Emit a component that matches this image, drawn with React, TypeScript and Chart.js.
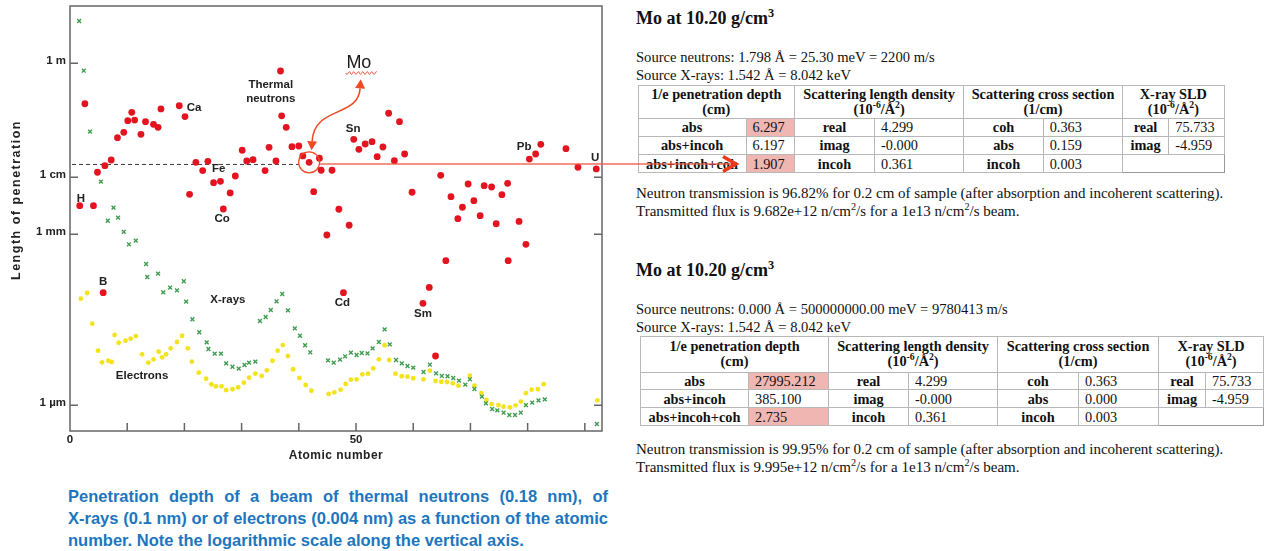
import React, { useEffect, useRef } from "react";
import { Chart, registerables } from "chart.js";

Chart.register(...registerables);

// ---------------- data ----------------
// Thermal neutrons: atomic number / length of penetration (m)
const neutronZ = [1.7,2.6,4.1,4.8,5.8,6.1,7.2,8.3,9.4,10.1,10.8,11.3,12.4,13.2,14.6,15.4,15.9,19.1,20.1,20.9,22.0,23.2,24.1,25.1,26.3,26.8,28.0,28.9,30.1,30.9,32.0,34.1,34.8,36.0,36.8,37.0,37.8,38.8,40.0,40.7,41.8,42.6,43.6,43.9,44.9,45.8,47.0,47.8,48.8,49.6,50.5,51.6,52.8,53.7,54.7,55.7,56.7,57.6,58.5,59.8,61.7,62.8,63.9,64.8,65.7,66.6,67.8,68.6,69.6,70.6,71.7,72.4,73.7,74.5,75.5,76.5,76.6,78.5,79.7,80.3,81.4,82.3,86.7,88.8,92.0];
const neutronLength = [0.00318,0.195,0.00318,0.01225,9.45e-5,0.0160,0.0201,0.0496,0.0615,0.0984,0.138,0.101,0.0568,0.0945,0.0851,0.0754,0.158,0.180,0.116,0.00503,0.0183,0.0131,0.0191,0.00804,0.00851,0.00278,0.00531,0.01054,0.0298,0.0193,0.0204,0.0131,0.0336,0.0193,0.733,0.120,0.0754,0.0344,0.0354,0.0237,0.0183,0.00559,0.0216,0.0133,0.000972,0.0133,0.00275,9.45e-5,0.00144,0.0464,0.0310,0.0384,0.0421,0.0230,0.0340,0.133,0.0196,0.0945,0.0256,0.00546,6.16e-5,0.000117,7.33e-6,0.01084,0.000344,0.00457,0.00188,0.00298,0.00763,0.00389,0.00212,0.00712,0.00676,0.00153,0.00495,0.00785,0.000344,0.00168,0.000668,0.0209,0.0256,0.0379,0.0318,0.0150,0.0140];

// X-rays
const xrayZ = [1.6,2.4,3.5,5.4,6.6,7.6,8.4,9.4,10.3,11.5,13.3,13.5,15.4,16.3,17.5,18.7,19.9,20.3,21.4,22.6,23.9,24.2,25.3,26.4,27.3,28.4,29.5,30.5,31.3,32.4,33.2,34.2,35.1,36.1,37.1,38.1,39.3,40.2,41.1,42.0,45.1,46.1,47.2,48.1,49.1,50.1,51.0,52.0,52.9,54.0,55.0,55.9,57.0,58.0,59.0,60.0,61.8,62.9,64.0,65.0,66.0,67.0,68.0,69.1,69.9,70.7,72.0,72.7,73.8,74.7,75.8,76.8,77.8,78.8,79.7,80.8,81.9,83.0,92.1];
const xrayLength = [5.52,0.741,0.0631,0.00837,0.00173,0.00293,0.00196,0.00110,0.000668,0.000773,0.000301,0.000178,0.000204,9.6e-5,0.000116,0.000104,0.000150,6.57e-5,3.23e-5,1.91e-5,1.27e-5,9.72e-6,8.04e-6,8.04e-6,5.45e-6,4.75e-6,4.39e-6,5.09e-6,5.59e-6,5.82e-6,3.01e-5,3.54e-5,4.70e-5,6.68e-5,8.97e-5,4.64e-5,2.24e-5,1.66e-5,1.13e-5,8.51e-6,6.15e-6,5.59e-6,6.31e-6,7.24e-6,8.37e-6,7.62e-6,8.27e-6,8.17e-6,1.0e-5,1.29e-5,2.15e-5,1.17e-5,6.23e-6,5.45e-6,4.89e-6,4.57e-6,3.84e-6,5.15e-6,3.64e-6,3.27e-6,3.23e-6,3.01e-6,2.70e-6,2.30e-6,2.86e-6,1.93e-6,1.42e-6,1.08e-6,8.61e-7,8.17e-7,7.41e-7,6.76e-7,6.76e-7,7.41e-7,1.01e-6,1.11e-6,1.22e-6,1.27e-6,4.70e-7];

// Electrons
const electronZ = [1.9,3.0,3.9,4.9,5.6,6.7,7.3,7.8,8.5,9.7,10.6,11.5,12.6,13.7,14.6,15.5,16.1,16.8,17.6,18.7,19.6,20.6,21.3,22.5,23.8,24.7,25.5,26.5,27.3,28.4,29.4,30.4,31.3,32.4,33.5,34.4,35.4,36.3,37.2,38.1,39.0,40.1,41.2,42.2,45.2,46.2,47.3,48.2,49.1,50.1,51.1,52.1,53.0,54.0,55.0,55.8,56.9,58.0,59.0,60.0,61.8,62.9,63.9,64.9,65.9,66.9,67.9,69.9,70.7,71.9,72.8,73.7,74.9,75.8,76.9,77.9,78.8,79.7,80.7,81.8,82.8,92.2];
const electronLength = [7.41e-5,9.33e-5,2.70e-5,9.08e-6,5.68e-6,6.05e-6,5.75e-6,1.71e-5,1.25e-5,1.36e-5,1.47e-5,1.64e-5,7.85e-6,5.59e-6,6.41e-6,8.71e-6,6.95e-6,7.85e-6,1.0e-5,1.29e-5,1.66e-5,1.0e-5,5.82e-6,3.73e-6,2.93e-6,2.34e-6,2.15e-6,2.15e-6,1.85e-6,1.91e-6,2.07e-6,2.49e-6,3.05e-6,3.58e-6,3.27e-6,4.11e-6,6.05e-6,9.08e-6,1.14e-5,7.33e-6,4.29e-6,3.01e-6,2.27e-6,1.80e-6,1.58e-6,1.69e-6,1.88e-6,2.37e-6,2.81e-6,2.86e-6,3.50e-6,3.58e-6,4.46e-6,6.41e-6,1.13e-5,6.23e-6,3.58e-6,3.23e-6,3.18e-6,2.98e-6,2.86e-6,4.05e-6,2.67e-6,2.59e-6,2.56e-6,2.43e-6,2.21e-6,3.30e-6,2.21e-6,1.64e-6,1.24e-6,1.05e-6,1.01e-6,9.45e-7,9.23e-7,1.0e-6,1.16e-6,1.63e-6,1.88e-6,1.91e-6,2.34e-6,1.22e-6];

// axes
const X_MIN = 0;
const X_MAX = 93;
const Y_MIN = 3.54e-7;
const Y_MAX = 10.12;
const yTickValues = [1, 0.01, 0.001, 1e-6];
const yTickLabels = ["1 m", "1 cm", "1 mm", "1 \u00b5m"];
const yRightTickValues = [0.01, 0.001, 1e-6];
const xTickValues = [10, 20, 30, 40, 50, 60, 70, 80, 90];
const xLabelValues = [0, 50];
const xLabelTexts = ["0", "50"];

// annotations (data coordinates)
const labelTexts = ["H", "Ca", "Fe", "Co", "Thermal", "neutrons", "Sn", "Pb", "U", "B", "X-rays", "Electrons", "Cd", "Sm"];
const labelZ = [1.9, 21.7, 26.0, 26.6, 35.1, 35.1, 49.5, 79.4, 91.8, 5.8, 27.6, 12.6, 47.6, 61.7];
const labelLength = [0.00423, 0.164, 0.0140, 0.00186, 0.416, 0.236, 0.0704, 0.0340, 0.0218, 1.46e-4, 7.03e-5, 3.27e-6, 6.23e-5, 4.0e-5];
const MO_Z = 41.8;
const MO_LENGTH = 0.0183;
const GUIDE_LENGTH = 0.0168;
const MO_LABEL_Z = 50.5;
const MO_LABEL_LENGTH = 1.01;
const POINTER_TIP_X = 736;

// tables
const title = "Mo at 10.20 g/cm";
const sourceXrays = "Source X-rays: 1.542 \u00c5 = 8.042 keV";
const sldRows: [string, string][] = [["real", "4.299"], ["imag", "-0.000"], ["incoh", "0.361"]];
const xraySldRows: [string, string][] = [["real", "75.733"], ["imag", "-4.959"]];

const block1Source = "Source neutrons: 1.798 \u00c5 = 25.30 meV = 2200 m/s";
const block1Depth: [string, string, boolean][] = [["abs", "6.297", true], ["abs+incoh", "6.197", false], ["abs+incoh+coh", "1.907", true]];
const block1Cross: [string, string][] = [["coh", "0.363"], ["abs", "0.159"], ["incoh", "0.003"]];
const block1Transmission = "Neutron transmission is 96.82% for 0.2 cm of sample (after absorption and incoherent scattering).";
const block1Flux = "9.682e+12";

const block2Source = "Source neutrons: 0.000 \u00c5 = 500000000.00 meV = 9780413 m/s";
const block2Depth: [string, string, boolean][] = [["abs", "27995.212", true], ["abs+incoh", "385.100", false], ["abs+incoh+coh", "2.735", true]];
const block2Cross: [string, string][] = [["coh", "0.363"], ["abs", "0.000"], ["incoh", "0.003"]];
const block2Transmission = "Neutron transmission is 99.95% for 0.2 cm of sample (after absorption and incoherent scattering).";
const block2Flux = "9.995e+12";

const captionLines = [
  "Penetration depth of a beam of thermal neutrons (0.18 nm), of",
  "X-rays (0.1 nm) or of electrons (0.004 nm) as a function of the atomic",
  "number. Note the logarithmic scale along the vertical axis.",
];

// ---------------- styles ----------------
const SANS = '"Liberation Sans", Arial, Helvetica, sans-serif';
const SERIF = '"Liberation Serif", "Times New Roman", Times, serif';
const TEXT = "#222";
const AXIS = "#666";
const RED = "#e3141f";
const GREEN = "#3f9d50";
const YELLOW = "#f3e31a";
const ARROW = "#ef4a26";
const HL = "#efb6b2";
const BORDER = "1px solid #b8b8b8";

const overlayPlugin = {
  id: "overlay",
  beforeDatasetsDraw(chart: any) {
    const { ctx, chartArea: a, scales } = chart;
    const gy = scales.y.getPixelForValue(GUIDE_LENGTH);
    const mx = scales.x.getPixelForValue(MO_Z);
    ctx.save();
    ctx.strokeStyle = "#3a3a3a";
    ctx.lineWidth = 1;
    ctx.setLineDash([4, 3]);
    ctx.beginPath();
    ctx.moveTo(a.left + 2, gy);
    ctx.lineTo(mx - 10, gy);
    ctx.stroke();
    ctx.restore();
  },
  afterDatasetsDraw(chart: any) {
    const { ctx, chartArea: a, scales } = chart;
    const X = (v: number) => scales.x.getPixelForValue(v);
    const Y = (v: number) => scales.y.getPixelForValue(v);
    ctx.save();
    ctx.setLineDash([]);
    // frame
    ctx.strokeStyle = AXIS;
    ctx.lineWidth = 1.5;
    ctx.strokeRect(a.left, a.top, a.right - a.left, a.bottom - a.top);
    ctx.beginPath();
    yTickValues.forEach((v) => {
      const p = Y(v);
      ctx.moveTo(a.left, p);
      ctx.lineTo(a.left + 8, p);
    });
    yRightTickValues.forEach((v) => {
      const p = Y(v);
      ctx.moveTo(a.right, p);
      ctx.lineTo(a.right - 8, p);
    });
    xTickValues.forEach((v) => {
      const p = X(v);
      ctx.moveTo(p, a.bottom);
      ctx.lineTo(p, a.bottom - 8);
    });
    ctx.stroke();

    // tick labels
    ctx.fillStyle = TEXT;
    ctx.font = `bold 11.5px ${SANS}`;
    ctx.textAlign = "right";
    ctx.textBaseline = "middle";
    yTickValues.forEach((v, i) => ctx.fillText(yTickLabels[i], a.left - 4, Y(v) - 2));
    ctx.textAlign = "center";
    xLabelValues.forEach((v, i) => ctx.fillText(xLabelTexts[i], X(v), a.bottom + 9));

    // axis titles
    ctx.font = `bold 12px ${SANS}`;
    (ctx as any).letterSpacing = "0.5px";
    ctx.fillText("Atomic number", (a.left + a.right) / 2, a.bottom + 25);
    ctx.save();
    ctx.translate(a.left - 53, 200);
    ctx.rotate(-Math.PI / 2);
    ctx.font = `bold 12.5px ${SANS}`;
    (ctx as any).letterSpacing = "1.5px";
    ctx.fillText("Length of penetration", 0, 0);
    ctx.restore();
    (ctx as any).letterSpacing = "0px";

    // element / series labels
    ctx.font = `bold 11.5px ${SANS}`;
    labelTexts.forEach((t, i) => ctx.fillText(t, X(labelZ[i]), Y(labelLength[i])));

    // Mo highlight
    const mx = X(MO_Z);
    const my = Y(MO_LENGTH);
    const gy = Y(GUIDE_LENGTH);
    ctx.strokeStyle = ARROW;
    ctx.lineWidth = 1.2;
    ctx.beginPath();
    ctx.arc(mx, my, 10.5, 0, Math.PI * 2);
    ctx.stroke();

    // pointer line to the table
    ctx.strokeStyle = "rgba(240,84,64,0.85)";
    ctx.lineWidth = 1.6;
    ctx.beginPath();
    ctx.moveTo(mx + 10.5, gy - 0.5);
    ctx.lineTo(POINTER_TIP_X - 3, gy - 0.5);
    ctx.stroke();
    ctx.strokeStyle = "#ee3a1c";
    ctx.lineWidth = 3.5;
    ctx.lineJoin = "miter";
    ctx.beginPath();
    ctx.moveTo(POINTER_TIP_X - 13, gy - 8);
    ctx.lineTo(POINTER_TIP_X, gy - 0.5);
    ctx.lineTo(POINTER_TIP_X - 13, gy + 7);
    ctx.stroke();

    // curved double arrow between the label and the circle
    const p0 = [mx + 51, my - 74];
    const c1 = [mx + 49, my - 44];
    const c2 = [mx + 5, my - 57];
    const p3 = [mx + 3, my - 21];
    ctx.strokeStyle = ARROW;
    ctx.lineWidth = 1.6;
    ctx.beginPath();
    ctx.moveTo(p0[0], p0[1]);
    ctx.bezierCurveTo(c1[0], c1[1], c2[0], c2[1], p3[0], p3[1]);
    ctx.stroke();
    const head = (bx: number, by: number, dx: number, dy: number) => {
      const l = Math.hypot(dx, dy);
      const ux = dx / l, uy = dy / l;
      const tx = bx + ux * 9, ty = by + uy * 9;
      ctx.fillStyle = ARROW;
      ctx.beginPath();
      ctx.moveTo(tx, ty);
      ctx.lineTo(bx - uy * 5, by + ux * 5);
      ctx.lineTo(bx + uy * 5, by - ux * 5);
      ctx.closePath();
      ctx.fill();
    };
    head(p0[0], p0[1], p0[0] - c1[0], p0[1] - c1[1]);
    head(p3[0], p3[1], p3[0] - c2[0], p3[1] - c2[1]);

    // "Mo" label with wavy underline
    const lx = X(MO_LABEL_Z);
    const ly = Y(MO_LABEL_LENGTH);
    ctx.fillStyle = "#1a1a1a";
    ctx.font = `18px ${SANS}`;
    ctx.textAlign = "center";
    ctx.fillText("Mo", lx, ly);
    ctx.strokeStyle = "#f04a3a";
    ctx.lineWidth = 1;
    ctx.beginPath();
    for (let t = 0; t <= 31; t += 0.5) {
      const xx = lx - 13 + t;
      const yy = ly + 10 + 1.4 * Math.sin((t * 2 * Math.PI) / 4.5);
      if (t === 0) ctx.moveTo(xx, yy);
      else ctx.lineTo(xx, yy);
    }
    ctx.stroke();
    ctx.restore();
  },
};

// ---------------- HTML blocks ----------------
type Spec = {
  titleTop: number;
  srcTop: number;
  srcLH: number;
  tableLeft: number;
  tableTop: number;
  cols: number[];
  headerH: number;
  rowHs: number[];
  transTop: number;
  source: string;
  depth: [string, string, boolean][];
  cross: [string, string][];
  transmission: string;
  flux: string;
};

const spec1: Spec = {
  titleTop: 7, srcTop: 48, srcLH: 18, tableLeft: 637.5, tableTop: 84.5,
  cols: [108, 48.5, 80, 89.3, 79.4, 79, 46.6, 55.7], headerH: 33, rowHs: [18, 18.6, 18.3], transTop: 184,
  source: block1Source, depth: block1Depth, cross: block1Cross, transmission: block1Transmission, flux: block1Flux,
};
const spec2: Spec = {
  titleTop: 259, srcTop: 301, srcLH: 17.5, tableLeft: 640, tableTop: 336,
  cols: [108, 80, 80, 89, 81, 80, 47, 58], headerH: 35.7, rowHs: [17.6, 18, 17.7], transTop: 440,
  source: block2Source, depth: block2Depth, cross: block2Cross, transmission: block2Transmission, flux: block2Flux,
};

const supStyle: React.CSSProperties = { fontSize: "0.68em", verticalAlign: "super", lineHeight: 0 };

function InfoBlock({ s }: { s: Spec }) {
  const w = s.cols.reduce((p, c) => p + c, 0);
  const th: React.CSSProperties = { border: BORDER, fontWeight: "bold", textAlign: "center", lineHeight: "15px", padding: 0, verticalAlign: "middle" };
  const lab: React.CSSProperties = { border: BORDER, fontWeight: "bold", textAlign: "center", padding: 0, lineHeight: "14px", whiteSpace: "nowrap" };
  const val: React.CSSProperties = { border: BORDER, textAlign: "left", padding: "0 0 0 6px", lineHeight: "14px", whiteSpace: "nowrap" };
  return (
    <>
      <div style={{ position: "absolute", left: 636, top: s.titleTop, fontFamily: SERIF, fontWeight: "bold", fontSize: 18, lineHeight: "22px", whiteSpace: "nowrap", color: "#111" }}>
        {title}
        <sup style={supStyle}>3</sup>
      </div>
      <div style={{ position: "absolute", left: 636, top: s.srcTop, fontFamily: SERIF, fontSize: 14.6, lineHeight: `${s.srcLH}px`, whiteSpace: "nowrap", color: "#111" }}>
        <div>{s.source}</div>
        <div>{sourceXrays}</div>
      </div>
      <table style={{ position: "absolute", left: s.tableLeft, top: s.tableTop, width: w, borderCollapse: "collapse", tableLayout: "fixed", fontFamily: SERIF, fontSize: 14.3, color: "#111", border: "1px solid #999" }}>
        <colgroup>
          {s.cols.map((c, i) => (
            <col key={i} style={{ width: c }} />
          ))}
        </colgroup>
        <tbody>
          <tr style={{ height: s.headerH }}>
            <th colSpan={2} style={th}>1/e penetration depth<br />(cm)</th>
            <th colSpan={2} style={th}>Scattering length density<br />(10<sup style={supStyle}>-6</sup>/{"\u00c5"}<sup style={supStyle}>2</sup>)</th>
            <th colSpan={2} style={th}>Scattering cross section<br />(1/cm)</th>
            <th colSpan={2} style={th}>X-ray SLD<br />(10<sup style={supStyle}>-6</sup>/{"\u00c5"}<sup style={supStyle}>2</sup>)</th>
          </tr>
          {[0, 1, 2].map((i) => (
            <tr key={i} style={{ height: s.rowHs[i] }}>
              <td style={lab}>{s.depth[i][0]}</td>
              <td style={{ ...val, background: s.depth[i][2] ? HL : undefined }}>{s.depth[i][1]}</td>
              <td style={lab}>{sldRows[i][0]}</td>
              <td style={val}>{sldRows[i][1]}</td>
              <td style={lab}>{s.cross[i][0]}</td>
              <td style={val}>{s.cross[i][1]}</td>
              {i < 2 ? (
                <>
                  <td style={lab}>{xraySldRows[i][0]}</td>
                  <td style={val}>{xraySldRows[i][1]}</td>
                </>
              ) : (
                <td colSpan={2} style={{ borderTop: BORDER, borderLeft: BORDER }} />
              )}
            </tr>
          ))}
        </tbody>
      </table>
      <div style={{ position: "absolute", left: 636, top: s.transTop, fontFamily: SERIF, fontSize: 15, lineHeight: "18px", whiteSpace: "nowrap", color: "#111" }}>
        <div>{s.transmission}</div>
        <div>
          Transmitted flux is {s.flux} n/cm<sup style={supStyle}>2</sup>/s for a 1e13 n/cm<sup style={supStyle}>2</sup>/s beam.
        </div>
      </div>
    </>
  );
}

export default function App() {
  const canvasRef = useRef<HTMLCanvasElement | null>(null);

  useEffect(() => {
    const canvas = canvasRef.current;
    if (!canvas) return;
    const toPoints = (zs: number[], vs: number[]) => zs.map((z, i) => ({ x: z, y: vs[i] }));
    const chart = new Chart(canvas, {
      type: "scatter",
      data: {
        datasets: [
          { label: "Thermal neutrons", data: toPoints(neutronZ, neutronLength), pointRadius: 3.4, pointBackgroundColor: RED, pointBorderWidth: 0, pointStyle: "circle" },
          { label: "X-rays", data: toPoints(xrayZ, xrayLength), pointRadius: 2.7, pointStyle: "crossRot", pointBorderColor: GREEN, pointBackgroundColor: GREEN, pointBorderWidth: 1.4 },
          { label: "Electrons", data: toPoints(electronZ, electronLength), pointRadius: 2.4, pointBackgroundColor: YELLOW, pointBorderWidth: 0, pointStyle: "circle" },
        ],
      },
      options: {
        responsive: false,
        animation: false,
        events: [],
        layout: { padding: { left: 70, top: 6, right: 664, bottom: 120 } },
        plugins: { legend: { display: false }, tooltip: { enabled: false } },
        scales: {
          x: { type: "linear", min: X_MIN, max: X_MAX, display: false },
          y: { type: "logarithmic", min: Y_MIN, max: Y_MAX, display: false },
        },
      },
      plugins: [overlayPlugin],
    } as any);
    return () => chart.destroy();
  }, []);

  return (
    <div style={{ position: "absolute", left: 0, top: 0, width: 1266, height: 551, background: "#fff", overflow: "hidden" }}>
      <div style={{ position: "absolute", left: 68, top: 485, width: 540, fontFamily: SANS, fontWeight: "bold", fontSize: 16.5, color: "#1c76bf" }}>
        {captionLines.map((l, i) => (
          <div key={i} style={{ height: 22, lineHeight: "22px", whiteSpace: "nowrap", textAlign: i < 2 ? "justify" : "left", textAlignLast: i < 2 ? "justify" : "left" } as React.CSSProperties}>
            {l}
          </div>
        ))}
      </div>
      <InfoBlock s={spec1} />
      <InfoBlock s={spec2} />
      <canvas ref={canvasRef} width={1266} height={551} style={{ position: "absolute", left: 0, top: 0, width: 1266, height: 551, zIndex: 2, pointerEvents: "none" }} />
    </div>
  );
}
